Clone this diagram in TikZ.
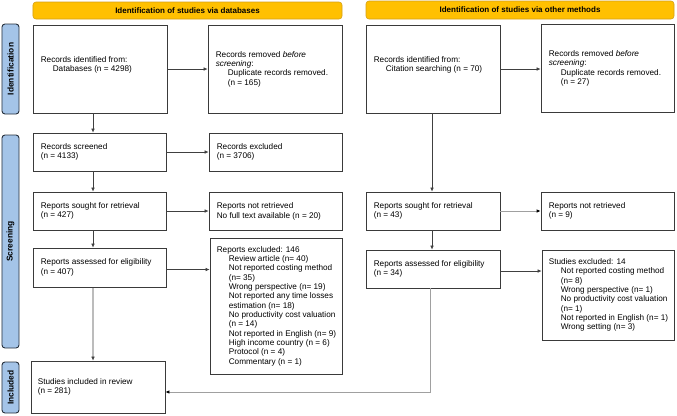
\documentclass[tikz,border=0pt]{standalone}
\usepackage{fontspec}
\setmainfont{Liberation Sans}
\usetikzlibrary{arrows.meta}
\definecolor{bannerY}{HTML}{FFC000}
\definecolor{bannerB}{HTML}{D4A017}
\definecolor{sideF}{HTML}{A4C4E8}
\definecolor{sideB}{HTML}{26303C}
\definecolor{boxB}{HTML}{3A3A3A}
\definecolor{lineD}{HTML}{404040}
\definecolor{lineG}{HTML}{A0A0A0}
\begin{document}
\begin{tikzpicture}[x=1bp,y=-1bp,
  every node/.style={font=\fontsize{8.2bp}{9.33bp}\selectfont},
  banner/.style={draw=bannerB, fill=bannerY, rounded corners=3bp, line width=0.6bp, inner sep=0pt, font=\fontsize{8bp}{9.33bp}\selectfont\bfseries},
  side/.style={draw=sideB, fill=sideF, rounded corners=3bp, line width=0.9bp, inner sep=0pt},
  sidetext/.style={rotate=90, font=\fontsize{8.4bp}{10bp}\selectfont\bfseries},
  box/.style={draw=boxB, line width=0.8bp, inner sep=0pt},
  txt/.style={anchor=west, align=left, inner sep=0pt},
  arr/.style={draw=lineD, line width=0.6bp, -{Latex[length=4bp,width=3.6bp]}},
  garr/.style={draw=lineG, line width=1bp, -{Latex[length=4bp,width=3.6bp,color=black]}}
]
\useasboundingbox (0,0) rectangle (677,415);
\newcommand{\ii}{\hspace*{12bp}}

% banners
\node[banner, minimum width=309bp, minimum height=17bp] (ban1) at (187.5,10.5) {Identification of studies via databases};
\node[banner, minimum width=308bp, minimum height=18bp] (ban2) at (520,10) {Identification of studies via other methods};

% side labels
\node[side, minimum width=17bp, minimum height=90bp] (s1) at (10.5,69) {};
\node[sidetext] (s1t) at (s1.center) {Identification};
\node[side, minimum width=17bp, minimum height=213bp] (s2) at (10.5,241.5) {};
\node[sidetext] (s2t) at (s2.center) {Screening};
\node[side, minimum width=17bp, minimum height=51bp] (s3) at (10.5,387.5) {};
\node[sidetext] (s3t) at (s3.center) {Included};

% left column boxes
\node[box, minimum width=134bp, minimum height=88bp] (A) at (100,69) {};
\node[txt] (At) at ([xshift=8bp,yshift=4bp]A.west) {Records identified from:\\ \ii Databases (n = 4298)};
\node[box, minimum width=134bp, minimum height=88bp] (B) at (275,69) {};
\node[txt] (Bt) at ([xshift=8bp]B.west) {Records removed \emph{before}\\ \emph{screening}:\\ \ii Duplicate records removed.\\ \ii (n = 165)};

\node[box, minimum width=133bp, minimum height=38bp] (E) at (99.5,152) {};
\node[txt] (Et) at ([xshift=8bp]E.west) {Records screened\\ (n = 4133)};
\node[box, minimum width=133bp, minimum height=38bp] (F) at (275.5,152) {};
\node[txt] (Ft) at ([xshift=8bp]F.west) {Records excluded\\ (n = 3706)};

\node[box, minimum width=133bp, minimum height=38bp] (G) at (99.5,211) {};
\node[txt] (Gt) at ([xshift=8bp]G.west) {Reports sought for retrieval\\ (n = 427)};
\node[box, minimum width=133bp, minimum height=38bp] (H) at (275.5,211.5) {};
\node[txt] (Ht) at ([xshift=8bp]H.west) {Reports not retrieved\\ No full text available (n = 20)};

\node[box, minimum width=133bp, minimum height=39bp] (I) at (99.5,267.5) {};
\node[txt] (It) at ([xshift=8bp]I.west) {Reports assessed for eligibility\\ (n = 407)};
\node[box, minimum width=132bp, minimum height=136bp] (J) at (276,306) {};
\node[txt] (Jt) at ([xshift=7bp]J.west) {Reports excluded: 146\\ \ii Review article (n= 40)\\ \ii Not reported costing method\\ \ii (n= 35)\\ \ii Wrong perspective (n= 19)\\ \ii Not reported any time losses\\ \ii estimation (n= 18)\\ \ii No productivity cost valuation\\ \ii (n = 14)\\ \ii Not reported in English (n= 9)\\ \ii High income country (n = 6)\\ \ii Protocol (n = 4)\\ \ii Commentary (n = 1)};

\node[box, minimum width=134bp, minimum height=52bp] (K) at (98,387) {};
\node[txt] (Kt) at ([xshift=7bp]K.west) {Studies included in review\\ (n = 281)};

% right column boxes
\node[box, minimum width=134bp, minimum height=88bp] (C) at (433,69) {};
\node[txt] (Ct) at ([xshift=8bp,yshift=4bp]C.west) {Records identified from:\\ \ii Citation searching (n = 70)};
\node[box, minimum width=133bp, minimum height=88bp] (D) at (607.5,68.5) {};
\node[txt] (Dt) at ([xshift=8bp]D.west) {Records removed \emph{before}\\ \emph{screening}:\\ \ii Duplicate records removed.\\ \ii (n = 27)};

\node[box, minimum width=134bp, minimum height=38bp] (L) at (433,211) {};
\node[txt] (Lt) at ([xshift=8bp]L.west) {Reports sought for retrieval\\ (n = 43)};
\node[box, minimum width=133bp, minimum height=38bp] (M) at (607.5,211) {};
\node[txt] (Mt) at ([xshift=8bp]M.west) {Reports not retrieved\\ (n = 9)};

\node[box, minimum width=134bp, minimum height=38bp] (N) at (433,269) {};
\node[txt] (Nt) at ([xshift=8bp]N.west) {Reports assessed for eligibility\\ (n = 34)};
\node[box, minimum width=132bp, minimum height=90bp] (O) at (608,295) {};
\node[txt] (Ot) at ([xshift=7bp]O.west) {Studies excluded: 14\\ \ii Not reported costing method\\ \ii (n= 8)\\ \ii Wrong perspective (n= 1)\\ \ii No productivity cost valuation\\ \ii (n= 1)\\ \ii Not reported in English (n= 1)\\ \ii Wrong setting (n= 3)};

% connectors left
\draw[arr] (A.east) -- (B.west);
\draw[arr] ([xshift=-7bp]A.south) -- ([xshift=-6.5bp]E.north);
\draw[arr] (E.east) -- (F.west);
\draw[arr] ([xshift=-6.5bp]E.south) -- ([xshift=-6.5bp]G.north);
\draw[arr] (G.east) -- (G.east -| H.west);
\draw[arr] ([xshift=-6.5bp]G.south) -- ([xshift=-6.5bp]I.north);
\draw[arr] ([yshift=-2bp]I.east) -- ([yshift=-2bp]I.east -| J.west);
\draw[arr] ([xshift=-6.5bp]I.south) -- ([xshift=-5bp]K.north);

% connectors right
\draw[arr] (C.east) -- (C.east -| D.west);
\draw[arr] ([xshift=-1bp]C.south) -- ([xshift=-1bp]L.north);
\draw[garr] (L.east) -- (M.west);
\draw[arr] ([xshift=-1bp]L.south) -- ([xshift=-1bp]N.north);
\draw[arr] ([yshift=-2bp]N.east) -- ([yshift=-2bp]N.east -| O.west);
\draw[garr] ([xshift=-2.5bp]N.south) |- ([yshift=-5bp]K.east);
\end{tikzpicture}
\end{document}
